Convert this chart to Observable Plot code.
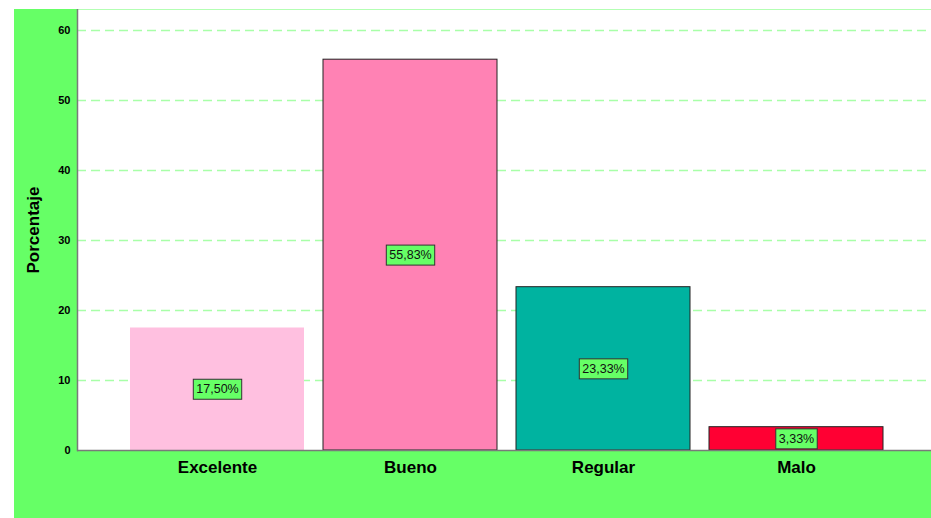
<!DOCTYPE html>
<html>
<head>
<meta charset="utf-8">
<script src="https://cdn.jsdelivr.net/npm/d3@7"></script>
<script src="https://cdn.jsdelivr.net/npm/@observablehq/plot@0.6"></script>
<style>
  html, body { margin: 0; padding: 0; background: #ffffff; }
  #page { position: relative; width: 931px; height: 518px; background: #ffffff; overflow: hidden; }
  #panel { position: absolute; left: 14px; top: 9px; width: 917px; height: 509px; background: #66ff66; }
</style>
</head>
<body>
<div id="page"><div id="panel"></div></div>
<script>
const categories = ["Excelente", "Bueno", "Regular", "Malo"];
const values = [17.50, 55.83, 23.33, 3.33];
const valueLabels = ["17,50%", "55,83%", "23,33%", "3,33%"];
const barColors = ["#ffc0e0", "#ff82b4", "#00b3a0", "#ff0033"];
const outlined = [false, true, true, true];
const yTicks = [0, 10, 20, 30, 40, 50, 60];
const gridTicks = [10, 20, 30, 40, 50, 60];
const yLabel = "Porcentaje";

const data = categories.map((c, i) => ({cat: c, value: values[i], label: valueLabels[i], color: barColors[i], outlined: outlined[i]}));

const plot = Plot.plot({
  width: 917,
  height: 509,
  marginLeft: 63,
  marginRight: 0,
  marginTop: 0,
  marginBottom: 68,
  style: {background: "transparent", fontFamily: "'Liberation Sans', Arial, sans-serif", color: "#000"},
  x: {domain: categories, paddingInner: 0.097, paddingOuter: 0.258, align: 0.527, label: null},
  y: {domain: [0, 63.0], label: null},
  marks: [
    Plot.frame({fill: "#ffffff", stroke: null}),
    Plot.gridY(gridTicks, {stroke: "#a8ffa8", strokeOpacity: 1, strokeWidth: 1.7, strokeDasharray: "9,5"}),
    Plot.barY(data.filter(d => !d.outlined), {x: "cat", y: "value", fill: "color"}),
    Plot.barY(data.filter(d => d.outlined), {x: "cat", y: "value", fill: "color", stroke: "#222", strokeWidth: 1}),
    Plot.ruleY([0], {stroke: "#7a7a7a", strokeWidth: 1.5}),
    Plot.frame({anchor: "left", stroke: "#7a7a7a", strokeWidth: 1.5}),
    Plot.axisY(yTicks, {tickSize: 0, tickPadding: 7, fontSize: 11, fontWeight: "bold", label: null}),
    Plot.axisX({tickSize: 0, tickPadding: 10, fontSize: 17, fontWeight: "bold", label: null}),
    Plot.text([yLabel], {frameAnchor: "left", text: d => d, rotate: -90, dx: -44, fontSize: 17, fontWeight: "bold", textAnchor: "middle", fill: "#000"}),
    Plot.text(data, {x: "cat", y: d => d.value / 2, text: "label", fontSize: 12.5, fill: "#111"})
  ]
});
document.getElementById("panel").appendChild(plot);

// add boxed background behind value labels
const labelSet = new Set(valueLabels);
Array.from(plot.querySelectorAll("text")).filter(t => labelSet.has(t.textContent.trim())).forEach(t => {
  const b = t.getBBox();
  const r = document.createElementNS("http://www.w3.org/2000/svg", "rect");
  r.setAttribute("x", b.x - 3);
  r.setAttribute("y", b.y - 3);
  r.setAttribute("width", b.width + 6);
  r.setAttribute("height", b.height + 6);
  r.setAttribute("fill", "#66ff66");
  r.setAttribute("stroke", "#333");
  r.setAttribute("stroke-width", "1");
  const tr = t.getAttribute("transform");
  if (tr) r.setAttribute("transform", tr);
  t.parentNode.insertBefore(r, t);
});
</script>
</body>
</html>
